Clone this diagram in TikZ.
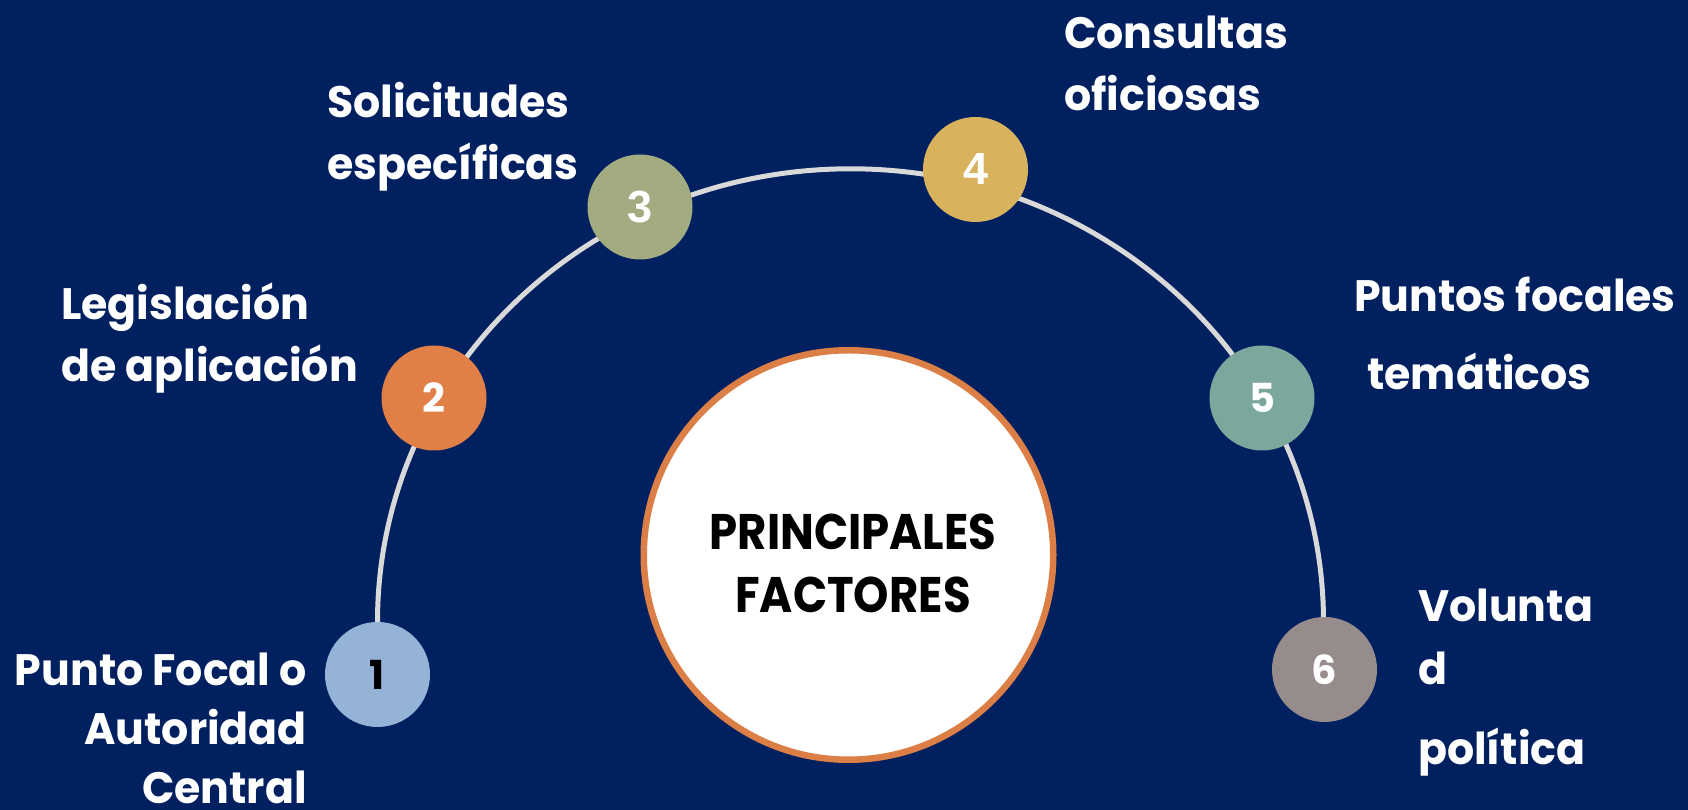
\documentclass[tikz,border=0pt]{standalone}
\usepackage{fontspec}
\setmainfont{Poppins}
\newfontfamily\lab{Poppins}[FakeStretch=0.97]
\newfontfamily\corefont{Poppins}[FakeStretch=0.9]
\newfontfamily\arialf{Liberation Sans}
\usetikzlibrary{backgrounds}
\definecolor{navy}{HTML}{002060}
\definecolor{cA}{HTML}{95B3D7}
\definecolor{cB}{HTML}{E07F46}
\definecolor{cC}{HTML}{A3AB81}
\definecolor{cD}{HTML}{D9B25E}
\definecolor{cE}{HTML}{7BA79D}
\definecolor{cF}{HTML}{968C8C}
\definecolor{arcgrey}{HTML}{D9D9D9}
\definecolor{ring}{HTML}{DC7F47}
\tikzset{
  dot/.style={circle, minimum size=105pt, inner sep=0pt, text=white, font=\fontsize{40}{40}\selectfont\bfseries},
  lbl/.style={text=white, inner sep=0pt, font=\lab\fontsize{44}{62}\selectfont\bfseries},
}
\begin{document}
\begin{tikzpicture}[x=1pt,y=1pt]
\useasboundingbox (0,0) rectangle (1688,810);
\node[dot, fill=cA, text=black] (n1) at (377.5,135.5) {1};
\node[dot, fill=cB] (n2) at (434,412) {2};
\node[dot, fill=cC, font=\arialf\fontsize{45}{45}\selectfont\bfseries] (n3) at (640,603) {3};
\node[dot, fill=cD, font=\arialf\fontsize{45}{45}\selectfont\bfseries] (n4) at (975.5,640.5) {4};
\node[dot, fill=cE] (n5) at (1262,412) {5};
\node[dot, fill=cF] (n6) at (1324.5,140.5) {6};
\node[circle, fill=white, draw=ring, line width=6.5pt, minimum size=409.5pt, inner sep=0pt] (core) at (848.5,255) {};
\node[anchor=base, align=center, inner sep=0pt, font=\corefont\fontsize{50}{63}\selectfont\bfseries] (coretxt) at (853,197) {PRINCIPALES\\FACTORES};
\begin{pgfonlayer}{background}
  \fill[navy] (0,0) rectangle (1688,810);
  \draw[arcgrey, line width=5pt] (n1.north) arc[start angle=180, end angle=0, x radius=473, y radius=453];
\end{pgfonlayer}
\node[lbl, anchor=base east, align=right, font=\lab\fontsize{44}{59}\selectfont\bfseries] (t1) at (307,6) {Punto Focal o\\Autoridad\\Central};
\node[lbl, anchor=base west, align=left] (t2) at (61,428) {Legislación\\de aplicación};
\node[lbl, anchor=base west, align=left] (t3) at (327,630) {Solicitudes\\específicas};
\node[lbl, anchor=base west, align=left] (t4) at (1064,699) {Consultas\\oficiosas};
\node[lbl, anchor=base west] (t5a) at (1354,498) {Puntos focales};
\node[lbl, anchor=base west] (t5b) at (1367,420) {temáticos};
\node[lbl, anchor=base west] (t6a) at (1418,188) {Volunta};
\node[lbl, anchor=base west] (t6b) at (1418,125) {d};
\node[lbl, anchor=base west] (t6c) at (1418,45) {política};
\end{tikzpicture}
\end{document}
